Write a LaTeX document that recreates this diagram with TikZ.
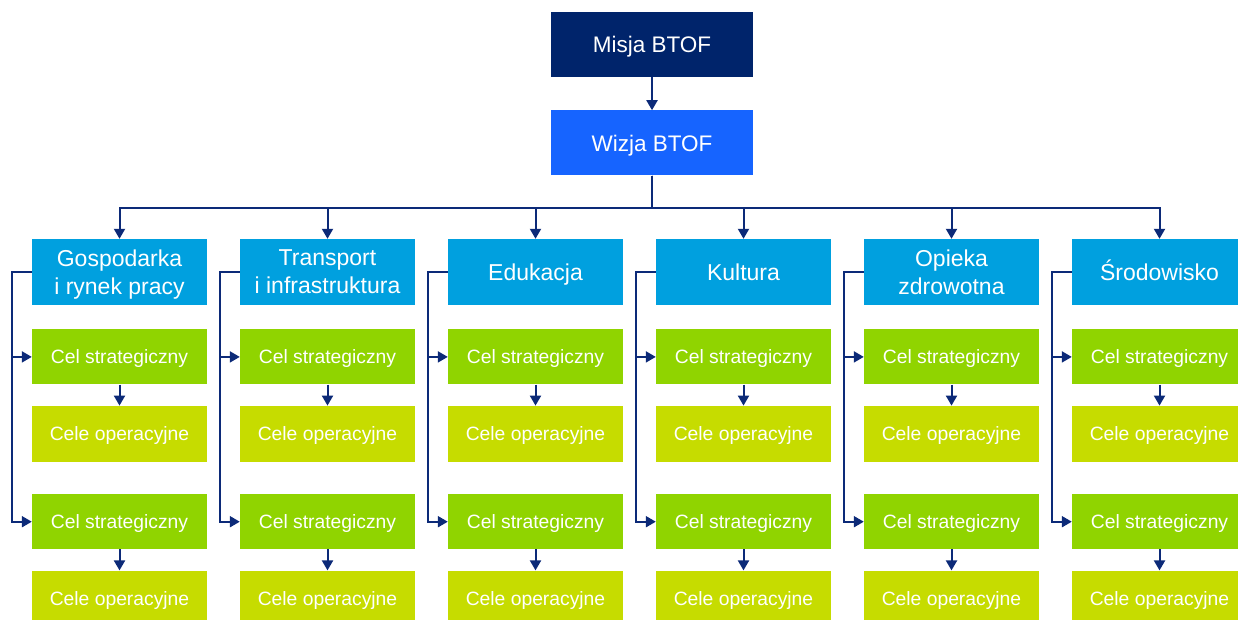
\documentclass[tikz,border=0pt]{standalone}
\usepackage{fontspec}
\setmainfont{Liberation Sans}
\usetikzlibrary{positioning,arrows.meta}

\definecolor{misja}{HTML}{00246B}
\definecolor{wizja}{HTML}{1664FF}
\definecolor{obszar}{HTML}{00A0DF}
\definecolor{celstr}{HTML}{90D400}
\definecolor{celop}{HTML}{C6DC00}
\definecolor{linia}{HTML}{0C2A78}

\begin{document}
\begin{tikzpicture}[x=1pt, y=-1pt, node distance=24pt,
    every node/.style={text=white, inner sep=0pt, text depth=0pt},
    box/.style={minimum width=175pt, minimum height=66pt, align=center},
    topbox/.style={box, minimum width=202pt, minimum height=65pt, font=\fontsize{22.5}{27}\selectfont},
    areabox/.style={box, fill=obszar, font=\fontsize{23}{28}\selectfont},
    celbox/.style={box, minimum height=55pt, fill=celstr, font=\fontsize{19.3}{23}\selectfont},
    opbox/.style={box, minimum height=56pt, fill=celop, font=\fontsize{19.3}{23}\selectfont},
    link/.style={draw=linia, line width=2pt},
    arr/.style={link, -{Triangle[length=10pt,width=11pt]}}]
    \useasboundingbox (0,0) rectangle (1238,619);
    \node[topbox, fill=misja] (misja) at (652,44.5) {Misja BTOF};
    \node[topbox, fill=wizja, below=33pt of misja] (wizja) {Wizja BTOF};
    \draw[arr] (misja) -- (wizja);
    \foreach \txt [count=\i] in {{Gospodarka\\i rynek pracy}, {Transport\\i infrastruktura}, Edukacja, Kultura, {Opieka\\zdrowotna}, \smash{Ś}rodowisko} {
      \node[areabox] (area\i) at ({119.5+208*(\i-1)},272) {\txt};
      \node[celbox, below=24pt of area\i] (csa\i) {Cel strategiczny};
      \node[opbox, below=21pt of csa\i] (opa\i) {Cele operacyjne};
      \node[celbox, below=32pt of opa\i] (csb\i) {Cel strategiczny};
      \node[opbox, below=21pt of csb\i] (opb\i) {Cele operacyjne};
      \draw[arr] (wizja.south) -- ++(0,32) -| (area\i.north);
      \draw[arr] (csa\i) -- (opa\i);
      \draw[arr] (csb\i) -- (opb\i);
      \draw[arr] (area\i.west) -- ++(-20,0) |- (csa\i.west);
      \draw[arr] (area\i.west) -- ++(-20,0) |- (csb\i.west);
    }
  \end{tikzpicture}
\end{document}
